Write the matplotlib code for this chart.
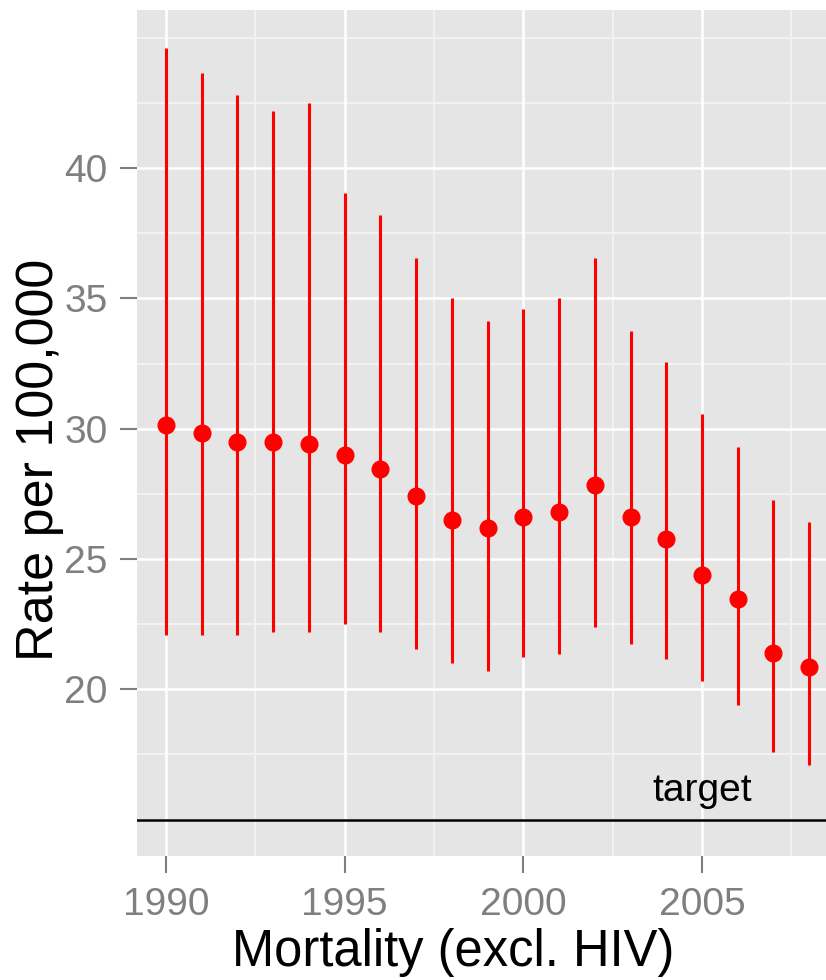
import matplotlib
matplotlib.use("Agg")
import matplotlib.pyplot as plt
import numpy as np

# data
years = list(range(1990, 2009))
rate = [30.15, 29.85, 29.5, 29.5, 29.4, 29.0, 28.45, 27.4, 26.5, 26.2,
        26.6, 26.8, 27.85, 26.6, 25.75, 24.4, 23.45, 21.4, 20.85]
upper = [44.6, 43.65, 42.8, 42.2, 42.5, 39.05, 38.2, 36.55, 35.0, 34.15,
         34.6, 35.0, 36.55, 33.75, 32.55, 30.55, 29.3, 27.25, 26.4]
lower = [22.1, 22.1, 22.1, 22.2, 22.2, 22.5, 22.2, 21.55, 21.0, 20.7,
         21.25, 21.35, 22.4, 21.75, 21.15, 20.3, 19.4, 17.6, 17.1]
target = 15

x_ticks = [1990, 1995, 2000, 2005]
x_minor = [1992.5, 1997.5, 2002.5, 2007.5]
y_ticks = [20, 25, 30, 35, 40]
y_minor = [15, 17.5, 22.5, 27.5, 32.5, 37.5, 42.5, 45]

plt.rcParams['font.family'] = ['Liberation Sans', 'DejaVu Sans']

W, H = 826, 980
fig = plt.figure(figsize=(W / 100, H / 100), dpi=100)
# panel in pixel terms: left 137, right 826, top 10, bottom 856
ax = fig.add_axes([137 / W, 1 - 856 / H, (826 - 137) / W, (856 - 10) / H])
ax.set_facecolor('#e5e5e5')
for s in ax.spines.values():
    s.set_visible(False)

ax.set_xlim(1989.19, 2008.47)
ax.set_ylim(13.6, 46.07)

# grid
for xm in x_minor:
    ax.axvline(xm, color='#f2f2f2', lw=1.5, zorder=0)
for ym in y_minor:
    ax.axhline(ym, color='#f2f2f2', lw=1.5, zorder=0)
for xt in x_ticks:
    ax.axvline(xt, color='white', lw=1.8, zorder=0)
for yt in y_ticks:
    ax.axhline(yt, color='white', lw=1.8, zorder=0)

# error bars + points
ax.vlines(years, lower, upper, color='#ff0000', lw=2.2, zorder=2)
ax.plot(years, rate, 'o', color='#ff0000', ms=12, mec='#ff0000', zorder=3)

# target line
ax.axhline(target, color='black', lw=1.8, zorder=2)
ax.text(2005, target + 0.4, 'target', ha='center', va='bottom',
        fontsize=28, color='black')

ax.set_xticks(x_ticks)
ax.set_yticks(y_ticks)
ax.tick_params(axis='both', colors='#7f7f7f', labelcolor='#7f7f7f',
               labelsize=28, length=12, width=1.5)
ax.tick_params(axis='x', pad=10)
ax.tick_params(axis='y', pad=9)

ax.set_xlabel('Mortality (excl. HIV)', fontsize=36.5, color='black')
ax.xaxis.set_label_coords((453 - 137) / (826 - 137), -0.085)
ax.set_ylabel('Rate per 100,000', fontsize=37.5, color='black')
ax.yaxis.set_label_coords((64 - 137) / (826 - 137), (856 - 460) / (856 - 10))

fig.savefig('out.png', dpi=100)
